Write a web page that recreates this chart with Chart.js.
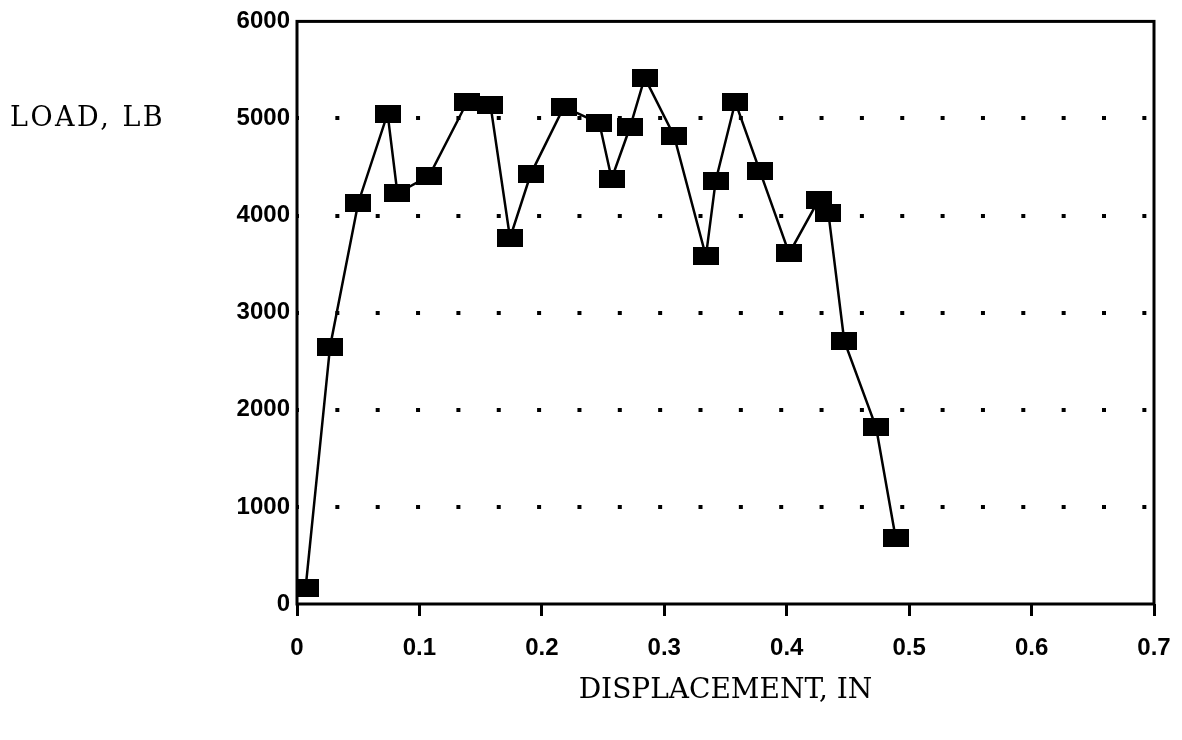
<!DOCTYPE html>
<html>
<head>
<meta charset="utf-8">
<script src="https://cdn.jsdelivr.net/npm/chart.js@4"></script>
<style>
  body { margin: 0; background: #fff; }
</style>
</head>
<body>
<canvas id="loadChart" width="1182" height="740"></canvas>
<script>
// displacement (in) and load (lb)
var displacement = [0.007, 0.027, 0.050, 0.074, 0.082, 0.108, 0.139, 0.158, 0.174, 0.191,
    0.218, 0.247, 0.257, 0.272, 0.284, 0.308, 0.334, 0.342, 0.358, 0.378,
    0.402, 0.426, 0.434, 0.447, 0.473, 0.489];
var load = [160, 2650, 4130, 5050, 4230, 4410, 5170, 5140, 3770, 4430,
    5120, 4950, 4380, 4910, 5420, 4820, 3580, 4360, 5170, 4460,
    3610, 4160, 4030, 2710, 1820, 680];
var xTicks = [0, 0.1, 0.2, 0.3, 0.4, 0.5, 0.6, 0.7];
var yTicks = [0, 1000, 2000, 3000, 4000, 5000, 6000];

var points = displacement.map(function (d, i) {
    return { x: d, y: load[i] };
});

// filled rectangle marker
var marker = document.createElement("canvas");
marker.width = 26;
marker.height = 18;
var mctx = marker.getContext("2d");
mctx.fillStyle = "#000";
mctx.fillRect(0, 0, 26, 18);

var tickFont = { family: "'Liberation Sans', Arial", size: 24, weight: "bold" };

var framePlugin = {
    id: "frame",
    beforeDatasetsDraw: function (chart) {
        var a = chart.chartArea;
        var ctx = chart.ctx;
        ctx.save();
        ctx.strokeStyle = "#000";
        ctx.lineWidth = 3;
        ctx.strokeRect(a.left, a.top, a.right - a.left, a.bottom - a.top);
        ctx.restore();
    },
    afterDraw: function (chart) {
        var ctx = chart.ctx;
        ctx.save();
        ctx.fillStyle = "#000";
        ctx.font = "27px 'DejaVu Serif'";
        ctx.letterSpacing = "2.5px";
        ctx.textAlign = "left";
        ctx.textBaseline = "middle";
        ctx.fillText("LOAD, LB", 10, chart.scales.y.getPixelForValue(5000));
        ctx.restore();
    }
};

let loadChart = new Chart(document.getElementById("loadChart").getContext("2d"), {
    type: "line",
    data: {
        datasets: [{
            data: points,
            borderColor: "#000",
            borderWidth: 2.5,
            tension: 0,
            pointStyle: marker,
            pointBackgroundColor: "#000",
            pointBorderColor: "#000"
        }]
    },
    options: {
        responsive: false,
        animation: false,
        devicePixelRatio: 1,
        layout: { padding: { top: 18, right: 28, left: 0, bottom: 0 } },
        plugins: {
            legend: { display: false },
            tooltip: { enabled: false }
        },
        scales: {
            x: {
                type: "linear",
                min: 0,
                max: 0.7,
                afterBuildTicks: function (s) {
                    s.ticks = xTicks.map(function (v) { return { value: v }; });
                },
                afterFit: function (s) {
                    s.height = 136;
                    s.paddingLeft = 0;
                    s.paddingRight = 0;
                },
                ticks: {
                    color: "#000",
                    font: tickFont,
                    padding: 18,
                    maxRotation: 0,
                    callback: function (v) { return v === 0 ? "0" : v.toFixed(1); }
                },
                grid: {
                    drawOnChartArea: false,
                    tickLength: 12,
                    tickWidth: 3,
                    tickColor: "#000"
                },
                border: { display: false },
                title: {
                    display: true,
                    text: "DISPLACEMENT, IN",
                    color: "#000",
                    font: { family: "'DejaVu Serif'", size: 28 },
                    padding: { top: 4, bottom: 32 }
                }
            },
            y: {
                min: 0,
                max: 6000,
                afterBuildTicks: function (s) {
                    s.ticks = yTicks.map(function (v) { return { value: v }; });
                },
                afterFit: function (s) { s.width = 297; },
                ticks: {
                    color: "#000",
                    font: tickFont,
                    padding: 7,
                    callback: function (v) { return String(v); }
                },
                grid: {
                    drawTicks: false,
                    lineWidth: 4,
                    color: function (c) {
                        var v = c.tick ? c.tick.value : 0;
                        return (v === 0 || v === 6000) ? "rgba(0,0,0,0)" : "#000";
                    }
                },
                border: { display: false, dash: [4, 36.35], dashOffset: 2 }
            }
        }
    },
    plugins: [framePlugin]
});
</script>
</body>
</html>
